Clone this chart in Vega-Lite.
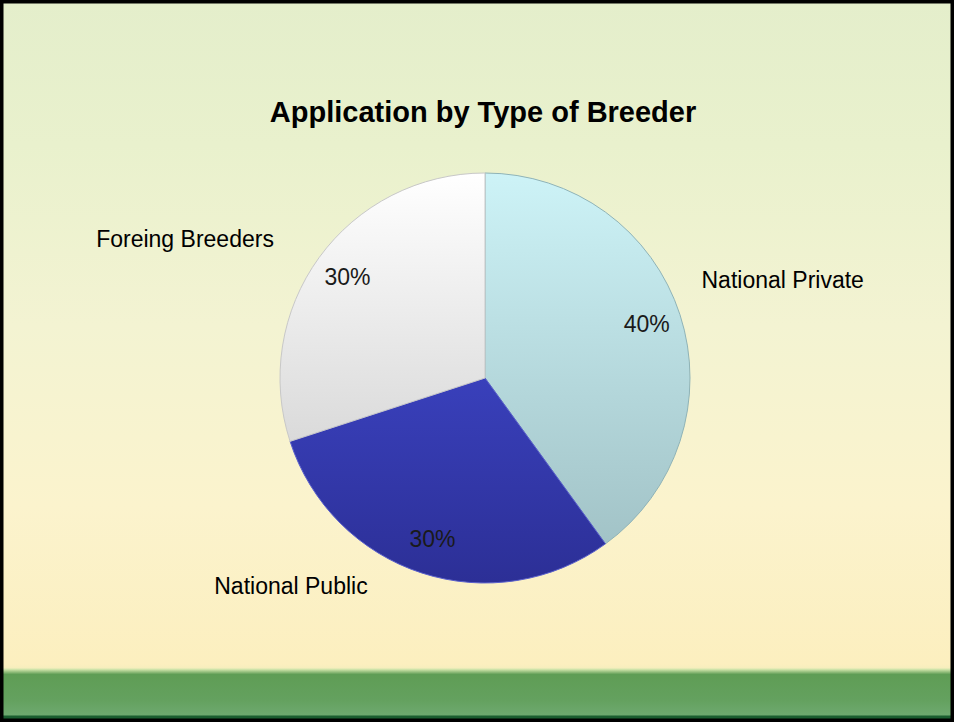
{
  "$schema": "https://vega.github.io/schema/vega-lite/v6.json",
  "width": 954,
  "height": 722,
  "padding": 0,
  "autosize": {"type": "none"},
  "background": "#f3f2d8",
  "view": {
    "fill": {
      "gradient": "linear",
      "x1": 0, "y1": 0, "x2": 0, "y2": 1,
      "stops": [
        {"offset": 0, "color": "#e4eecb"},
        {"offset": 0.2, "color": "#e9f1cd"},
        {"offset": 0.45, "color": "#f3f3d2"},
        {"offset": 0.7, "color": "#fbf3cd"},
        {"offset": 0.92, "color": "#fcefbf"},
        {"offset": 0.925, "color": "#f6eebd"},
        {"offset": 0.927, "color": "#d3e6ac"},
        {"offset": 0.934, "color": "#5f9d55"},
        {"offset": 0.97, "color": "#64a15f"},
        {"offset": 0.99, "color": "#6ea96f"},
        {"offset": 0.992, "color": "#1b5e30"},
        {"offset": 1, "color": "#1b5e30"}
      ]
    },
    "stroke": "#000000",
    "strokeWidth": 7
  },
  "title": {
    "text": "Application by Type of Breeder",
    "font": "Liberation Sans",
    "fontSize": 29,
    "fontWeight": "bold",
    "color": "#000000",
    "anchor": "middle",
    "baseline": "alphabetic",
    "offset": -151,
    "dx": 6
  },
  "data": {
    "values": [
      {"type": "National Private", "share": 0.4, "rank": 1},
      {"type": "National Public", "share": 0.3, "rank": 2},
      {"type": "Foreing Breeders", "share": 0.3, "rank": 3}
    ]
  },
  "transform": [
    {"stack": "share", "groupby": [], "sort": [{"field": "rank", "order": "ascending"}], "as": ["s0", "s1"]}
  ],
  "layer": [
    {
      "transform": [{"filter": "datum.type === 'National Private'"}],
      "mark": {
        "type": "arc", "radius": 205, "xOffset": 8, "yOffset": 17,
        "stroke": "#8fb3b7", "strokeWidth": 1,
        "color": {
          "gradient": "linear", "x1": 0, "y1": 0, "x2": 0, "y2": 1,
          "stops": [{"offset": 0, "color": "#cdf3f7"}, {"offset": 1, "color": "#a2c3c7"}]
        }
      },
      "encoding": {
        "theta": {"field": "s0", "type": "quantitative", "scale": {"domain": [0, 1]}},
        "theta2": {"field": "s1"}
      }
    },
    {
      "transform": [{"filter": "datum.type === 'National Public'"}],
      "mark": {
        "type": "arc", "radius": 205, "xOffset": 8, "yOffset": 17,
        "stroke": "#5a60cc", "strokeWidth": 1,
        "color": {
          "gradient": "linear", "x1": 0, "y1": 0, "x2": 0, "y2": 1,
          "stops": [{"offset": 0, "color": "#3940bb"}, {"offset": 1, "color": "#2c2f96"}]
        }
      },
      "encoding": {
        "theta": {"field": "s0", "type": "quantitative"},
        "theta2": {"field": "s1"}
      }
    },
    {
      "transform": [{"filter": "datum.type === 'Foreing Breeders'"}],
      "mark": {
        "type": "arc", "radius": 205, "xOffset": 8, "yOffset": 17,
        "stroke": "#c8c8c8", "strokeWidth": 1,
        "color": {
          "gradient": "linear", "x1": 0, "y1": 0, "x2": 0, "y2": 1,
          "stops": [{"offset": 0, "color": "#ffffff"}, {"offset": 1, "color": "#dadada"}]
        }
      },
      "encoding": {
        "theta": {"field": "s0", "type": "quantitative"},
        "theta2": {"field": "s1"}
      }
    },
    {
      "mark": {
        "type": "text", "radius": 170, "xOffset": 8, "yOffset": 17,
        "font": "Liberation Sans", "fontSize": 23, "color": "#1a1a1a",
        "align": "center", "baseline": "middle"
      },
      "encoding": {
        "theta": {"field": "share", "type": "quantitative", "stack": true},
        "order": {"field": "rank", "type": "quantitative"},
        "text": {"field": "share", "type": "quantitative", "format": ".0%"}
      }
    },
    {
      "mark": {
        "type": "text", "radius": 313, "xOffset": 8, "yOffset": 17,
        "font": "Liberation Sans", "fontSize": 23, "color": "#000000",
        "align": "center", "baseline": "middle"
      },
      "encoding": {
        "theta": {"field": "share", "type": "quantitative", "stack": true},
        "order": {"field": "rank", "type": "quantitative"},
        "text": {"condition": {"test": "datum.type === 'National Private'", "field": "type"}, "value": ""}
      }
    },
    {
      "mark": {
        "type": "text", "radius": 285, "xOffset": 8, "yOffset": 17, "dx": -106, "dy": -62,
        "font": "Liberation Sans", "fontSize": 23, "color": "#000000",
        "align": "center", "baseline": "middle"
      },
      "encoding": {
        "theta": {"field": "share", "type": "quantitative", "stack": true},
        "order": {"field": "rank", "type": "quantitative"},
        "text": {"condition": {"test": "datum.type === 'National Public'", "field": "type"}, "value": ""}
      }
    },
    {
      "mark": {
        "type": "text", "radius": 330, "xOffset": 8, "yOffset": 17, "dx": -33, "dy": 56,
        "font": "Liberation Sans", "fontSize": 23, "color": "#000000",
        "align": "center", "baseline": "middle"
      },
      "encoding": {
        "theta": {"field": "share", "type": "quantitative", "stack": true},
        "order": {"field": "rank", "type": "quantitative"},
        "text": {"condition": {"test": "datum.type === 'Foreing Breeders'", "field": "type"}, "value": ""}
      }
    }
  ]
}
